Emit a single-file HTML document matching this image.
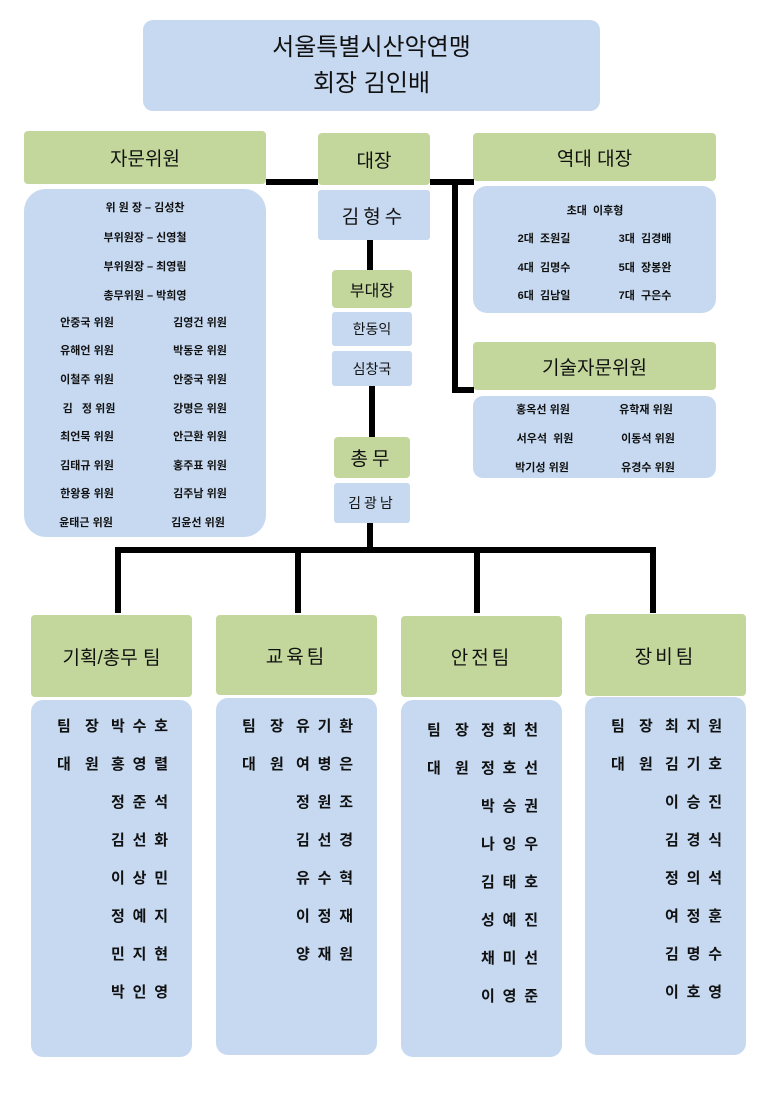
<!DOCTYPE html>
<html><head><meta charset="utf-8"><style>
body{margin:0;width:770px;height:1103px;background:#fff;position:relative;overflow:hidden;font-family:"Liberation Sans","Noto Sans CJK KR",sans-serif;color:#111}
.b{position:absolute;background:#c6d9f1;border-radius:10px}
.g{position:absolute;background:#c3d69b;border-radius:4px;display:flex;align-items:center;justify-content:center;font-size:19px}
.l{position:absolute;background:#000}
.t{position:absolute;font-size:11px;font-weight:bold;transform:translate(-50%,-50%);white-space:nowrap}
.r{position:absolute;font-size:15px;font-weight:bold;height:20px;line-height:20px}
.n{position:absolute;display:flex;justify-content:space-between;width:57px}
</style></head><body>
<div class="b" style="left:143px;top:20px;width:457px;height:91px;display:flex;flex-direction:column;align-items:center;justify-content:center;font-size:24px;line-height:36px">서울특별시산악연맹<br><span>회장 김인배</span></div>

<div class="g" style="left:24px;top:131px;width:242px;height:53px">자문위원</div>
<div class="b" style="left:24px;top:189px;width:242px;height:348px;border-radius:22px"></div>
<div class="g" style="left:318px;top:133px;width:112px;height:52px">대장</div>
<div class="b" style="left:318px;top:190px;width:112px;height:50px;border-radius:3px;display:flex;align-items:center;justify-content:center;font-size:19px;letter-spacing:4px">김형수</div>
<div class="g" style="left:473px;top:133px;width:243px;height:48px">역대 대장</div>
<div class="b" style="left:473px;top:186px;width:243px;height:127px;border-radius:14px"></div>
<div class="g" style="left:473px;top:342px;width:243px;height:48px">기술자문위원</div>
<div class="b" style="left:473px;top:396px;width:243px;height:82px"></div>

<div class="l" style="left:266px;top:179px;width:52px;height:6px"></div>
<div class="l" style="left:430px;top:179px;width:44px;height:6px"></div>
<div class="l" style="left:452px;top:179px;width:6px;height:214px"></div>
<div class="l" style="left:452px;top:387px;width:22px;height:6px"></div>
<div class="l" style="left:367px;top:240px;width:6px;height:30px"></div>
<div class="g" style="left:332px;top:270px;width:80px;height:38px;font-size:16px">부대장</div>
<div class="b" style="left:332px;top:312px;width:80px;height:34px;border-radius:3px;display:flex;align-items:center;justify-content:center;font-size:14px">한동익</div>
<div class="b" style="left:332px;top:351px;width:80px;height:35px;border-radius:3px;display:flex;align-items:center;justify-content:center;font-size:14px">심창국</div>
<div class="l" style="left:369px;top:386px;width:6px;height:51px"></div>
<div class="g" style="left:334px;top:437px;width:76px;height:41px;font-size:19px;letter-spacing:4px">총무</div>
<div class="b" style="left:334px;top:483px;width:76px;height:40px;border-radius:3px;display:flex;align-items:center;justify-content:center;font-size:14px;letter-spacing:3px">김광남</div>
<div class="l" style="left:367px;top:523px;width:6px;height:28px"></div>
<div class="l" style="left:115px;top:547px;width:541px;height:6px"></div>
<div class="l" style="left:115px;top:547px;width:6px;height:66px"></div>
<div class="l" style="left:295px;top:547px;width:6px;height:66px"></div>
<div class="l" style="left:474px;top:547px;width:6px;height:66px"></div>
<div class="l" style="left:650px;top:547px;width:6px;height:66px"></div>

<div class="t" style="left:145px;top:207px">위 원 장 – 김성찬</div>
<div class="t" style="left:145px;top:237px">부위원장 – 신영철</div>
<div class="t" style="left:145px;top:266px">부위원장 – 최영림</div>
<div class="t" style="left:145px;top:295px">총무위원 – 박희영</div>
<div class="t" style="left:87px;top:322px">안중국 위원</div><div class="t" style="left:200px;top:322px">김영건 위원</div>
<div class="t" style="left:87px;top:350px">유해언 위원</div><div class="t" style="left:200px;top:350px">박동운 위원</div>
<div class="t" style="left:87px;top:379px">이철주 위원</div><div class="t" style="left:200px;top:379px">안중국 위원</div>
<div class="t" style="left:89px;top:408px">김 &nbsp; 정 위원</div><div class="t" style="left:200px;top:408px">강명은 위원</div>
<div class="t" style="left:87px;top:436px">최언묵 위원</div><div class="t" style="left:200px;top:436px">안근환 위원</div>
<div class="t" style="left:87px;top:465px">김태규 위원</div><div class="t" style="left:200px;top:465px">홍주표 위원</div>
<div class="t" style="left:87px;top:493px">한왕용 위원</div><div class="t" style="left:200px;top:493px">김주남 위원</div>
<div class="t" style="left:86px;top:522px">윤태근 위원</div><div class="t" style="left:198px;top:522px">김윤선 위원</div>

<div class="t" style="left:595px;top:210px">초대 &nbsp;이후형</div>
<div class="t" style="left:544px;top:238px">2대 &nbsp;조원길</div><div class="t" style="left:645px;top:238px">3대 &nbsp;김경배</div>
<div class="t" style="left:544px;top:267px">4대 &nbsp;김명수</div><div class="t" style="left:645px;top:267px">5대 &nbsp;장봉완</div>
<div class="t" style="left:544px;top:295px">6대 &nbsp;김남일</div><div class="t" style="left:645px;top:295px">7대 &nbsp;구은수</div>
<div class="t" style="left:543px;top:409px">홍옥선 위원</div><div class="t" style="left:646px;top:409px">유학재 위원</div>
<div class="t" style="left:545px;top:438px">서우석 &nbsp;위원</div><div class="t" style="left:648px;top:438px">이동석 위원</div>
<div class="t" style="left:542px;top:467px">박기성 위원</div><div class="t" style="left:648px;top:467px">유경수 위원</div>

<div class="g" style="left:31px;top:615px;width:161px;height:82px">기획/총무 팀</div>
<div class="b" style="left:31px;top:700px;width:161px;height:357px;border-radius:12px"></div>
<div class="g" style="left:216px;top:615px;width:161px;height:80px;letter-spacing:3px">교육팀</div>
<div class="b" style="left:216px;top:698px;width:161px;height:357px;border-radius:12px"></div>
<div class="g" style="left:401px;top:616px;width:161px;height:81px;letter-spacing:3px">안전팀</div>
<div class="b" style="left:401px;top:700px;width:161px;height:357px;border-radius:12px"></div>
<div class="g" style="left:585px;top:614px;width:161px;height:82px;letter-spacing:3px">장비팀</div>
<div class="b" style="left:585px;top:697px;width:161px;height:358px;border-radius:12px"></div>

<div id="teams"></div>
<script>
var T=[[31,["박수호","홍영렬","정준석","김선화","이상민","정예지","민지현","박인영"],717],
[216,["유기환","여병은","정원조","김선경","유수혁","이정재","양재원"],717],
[401,["정회천","정호선","박승권","나잉우","김태호","성예진","채미선","이영준"],721],
[585,["최지원","김기호","이승진","김경식","정의석","여정훈","김명수","이호영"],717]];
var h="";
T.forEach(function(t){var x=t[0],y0=t[2];
t[1].forEach(function(n,i){var y=y0+i*38;
if(i==0)h+='<div class="r" style="left:'+(x+26)+'px;top:'+y+'px">팀</div><div class="r" style="left:'+(x+54)+'px;top:'+y+'px">장</div>';
if(i==1)h+='<div class="r" style="left:'+(x+26)+'px;top:'+y+'px">대</div><div class="r" style="left:'+(x+54)+'px;top:'+y+'px">원</div>';
h+='<div class="r n" style="left:'+(x+80)+'px;top:'+y+'px"><span>'+n[0]+'</span><span>'+n[1]+'</span><span>'+n[2]+'</span></div>';});});
document.getElementById("teams").innerHTML=h;
</script>
</body></html>
